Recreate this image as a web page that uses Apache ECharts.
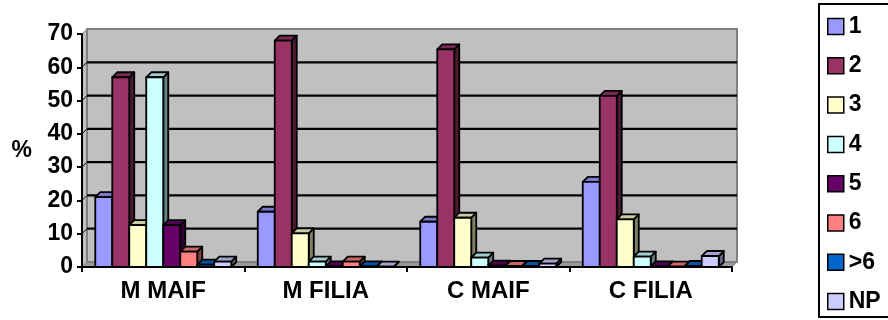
<!DOCTYPE html>
<html>
<head>
<meta charset="utf-8">
<script src="https://cdn.jsdelivr.net/npm/echarts@6/dist/echarts.min.js"></script>
<style>
  html, body { margin: 0; padding: 0; background: #ffffff; }
  #chart { width: 888px; height: 320px; }
</style>
</head>
<body>
<div id="chart"></div>
<script>
// Groups along the x axis
const categories = ['M MAIF', 'M FILIA', 'C MAIF', 'C FILIA'];
// One series per class, values in %
const seriesNames = ['1', '2', '3', '4', '5', '6', '>6', 'NP'];
const values1  = [21,   16.6, 13.6, 25.6];
const values2  = [57,   68,   65.4, 51.4];
const values3  = [12.6, 10.1, 14.8, 14.3];
const values4  = [57,   1.6,  2.8,  3.1];
const values5  = [12.6, 0.2,  0.4,  0.2];
const values6  = [4.6,  1.6,  0.3,  0.1];
const values7  = [0.7,  0.2,  0.3,  0.3];
const values8  = [1.6,  0.1,  1.0,  3.3];
const yTicks = [0, 10, 20, 30, 40, 50, 60, 70];

const allValues = [values1, values2, values3, values4, values5, values6, values7, values8];
const palette = ['#9999FF', '#993366', '#FFFFCC', '#CCFFFF', '#660066', '#FF8080', '#0066CC', '#CCCCFF'];

// perspective offset of the 3D look (pixels)
const DX = 5, DY = -5;
const FONT = "'Liberation Sans', Arial, sans-serif";

function shade(hex, k) {
  const n = parseInt(hex.slice(1), 16);
  const r = Math.round(((n >> 16) & 255) * k);
  const g = Math.round(((n >> 8) & 255) * k);
  const b = Math.round((n & 255) * k);
  return 'rgb(' + r + ',' + g + ',' + b + ')';
}

// back wall, side wall, floor and gridlines
function renderWall(params, api) {
  const cs = params.coordSys;
  const x = cs.x, y = cs.y, w = cs.width, h = cs.height;
  const children = [
    { type: 'polygon', shape: { points: [[x, y], [x + DX, y + DY], [x + DX, y + h + DY], [x, y + h]] },
      style: { fill: '#c0c0c0', stroke: '#808080', lineWidth: 1 } },
    { type: 'polygon', shape: { points: [[x, y + h], [x + DX, y + h + DY], [x + w + DX, y + h + DY], [x + w, y + h]] },
      style: { fill: '#9a9a9a', stroke: '#808080', lineWidth: 1 } },
    { type: 'rect', shape: { x: x + DX, y: y + DY, width: w, height: h },
      style: { fill: '#c0c0c0', stroke: '#808080', lineWidth: 2 } }
  ];
  yTicks.forEach(function (t) {
    if (t === yTicks[0] || t === yTicks[yTicks.length - 1]) return;
    const py = api.coord([0, t])[1];
    children.push({ type: 'line', shape: { x1: x + DX, y1: py + DY, x2: x + w + DX, y2: py + DY },
      style: { stroke: '#000', lineWidth: 2.2 } });
    children.push({ type: 'line', shape: { x1: x, y1: py, x2: x + DX, y2: py + DY },
      style: { stroke: '#000', lineWidth: 1 } });
  });
  return { type: 'group', children: children };
}

function makeBarRenderer(k) {
  return function (params, api) {
    const cat = api.value(0);
    const v = api.value(1);
    const base = api.coord([cat, 0]);
    const top = api.coord([cat, v]);
    const band = api.size([1, 0])[0];
    const bw = band * 0.1046;
    const x0 = base[0] - 4 * bw + k * bw;
    const x1 = x0 + bw;
    const yt = top[1], yb = base[1];
    const col = palette[k];
    const stroke = { stroke: '#000', lineWidth: 1.8, lineJoin: 'round' };
    return {
      type: 'group',
      children: [
        { type: 'polygon', shape: { points: [[x1, yt], [x1 + DX, yt + DY], [x1 + DX, yb + DY], [x1, yb]] },
          style: Object.assign({ fill: shade(col, 0.5) }, stroke) },
        { type: 'polygon', shape: { points: [[x0, yt], [x0 + DX, yt + DY], [x1 + DX, yt + DY], [x1, yt]] },
          style: Object.assign({ fill: shade(col, 0.8) }, stroke) },
        { type: 'rect', shape: { x: x0, y: yt, width: bw, height: yb - yt },
          style: Object.assign({ fill: col }, stroke) }
      ]
    };
  };
}

const series = [{
  name: 'wall',
  type: 'custom',
  coordinateSystem: 'cartesian2d',
  renderItem: renderWall,
  data: [[0, 0]],
  z: 1,
  silent: true
}];
seriesNames.forEach(function (name, k) {
  series.push({
    name: name,
    type: 'custom',
    coordinateSystem: 'cartesian2d',
    renderItem: makeBarRenderer(k),
    itemStyle: { color: palette[k] },
    data: allValues[k].map(function (v, i) { return [i, v]; }),
    z: 2
  });
});

const chart = echarts.init(document.getElementById('chart'), null, { renderer: 'canvas' });
chart.setOption({
  animation: false,
  backgroundColor: '#ffffff',
  grid: { left: 82, right: 156, top: 34, bottom: 53, containLabel: false },
  xAxis: {
    type: 'category',
    data: categories,
    boundaryGap: true,
    axisLine: { lineStyle: { color: '#000', width: 2 } },
    axisTick: { show: true, length: 5, lineStyle: { color: '#000', width: 2 } },
    axisLabel: { color: '#000', fontFamily: FONT, fontWeight: 'bold', fontSize: 24, margin: 12 },
    splitLine: { show: false },
    z: 5
  },
  yAxis: {
    type: 'value',
    min: 0,
    max: 70,
    interval: 10,
    name: '%',
    nameLocation: 'middle',
    nameRotate: 0,
    nameGap: 50,
    nameTextStyle: { color: '#000', fontFamily: FONT, fontWeight: 'bold', fontSize: 23 },
    axisLine: { show: true, lineStyle: { color: '#000', width: 2 } },
    axisTick: { show: true, length: 5, lineStyle: { color: '#000', width: 2 } },
    axisLabel: { color: '#000', fontFamily: FONT, fontWeight: 'bold', fontSize: 23, margin: 9 },
    splitLine: { show: false },
    z: 5
  },
  legend: {
    data: seriesNames,
    orient: 'vertical',
    left: 819,
    top: 4,
    padding: [11, 60, 4, 8],
    itemGap: 16.3,
    itemWidth: 16,
    itemHeight: 16,
    itemTextGap: 6,
    icon: 'rect',
    borderColor: '#000',
    borderWidth: 2,
    itemStyle: { borderColor: '#000', borderWidth: 1.5 },
    textStyle: { color: '#000', fontFamily: FONT, fontWeight: 'bold', fontSize: 23 }
  },
  series: series
});
</script>
</body>
</html>
